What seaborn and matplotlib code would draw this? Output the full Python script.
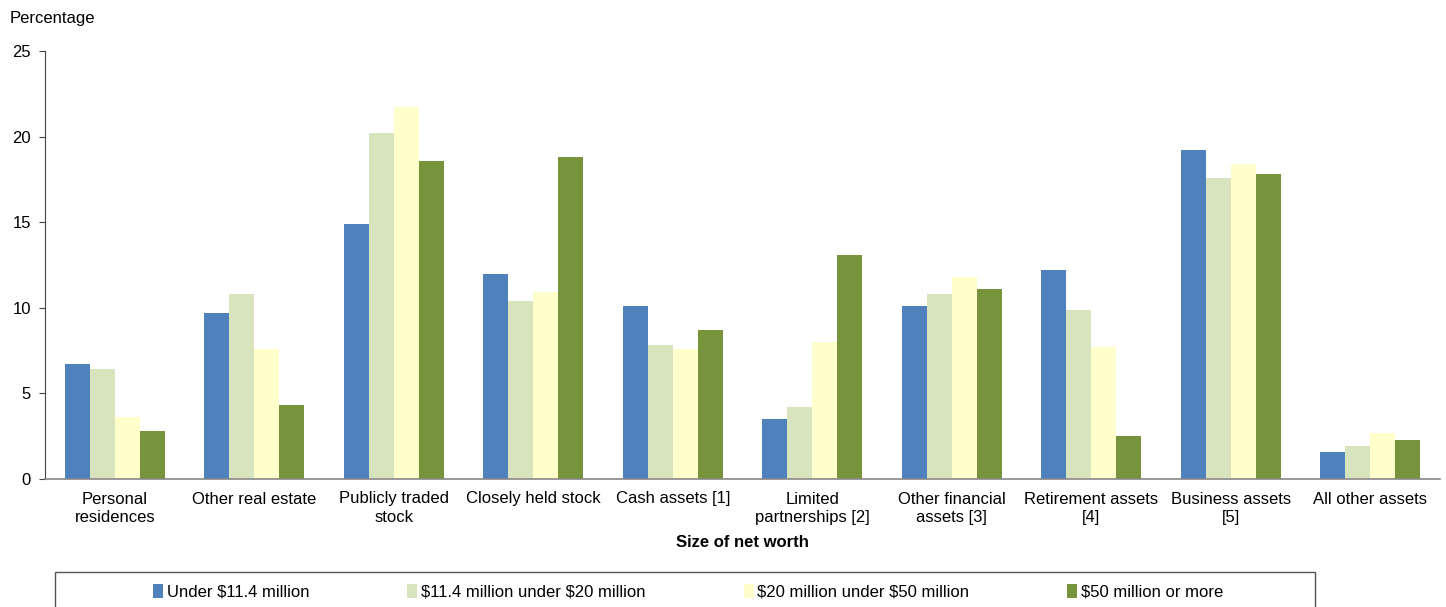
import matplotlib
matplotlib.use("Agg")
from matplotlib import pyplot as plt
from matplotlib.patches import Rectangle
import pandas as pd
import seaborn as sns

categories = ["Personal\nresidences", "Other real estate", "Publicly traded\nstock",
              "Closely held stock", "Cash assets [1]", "Limited\npartnerships [2]",
              "Other financial\nassets [3]", "Retirement assets\n[4]", "Business assets\n[5]",
              "All other assets"]
series = ["Under \\$11.4 million", "\\$11.4 million under \\$20 million",
          "\\$20 million under \\$50 million", "\\$50 million or more"]
under_11_4 = [6.7, 9.7, 14.9, 12.0, 10.1, 3.5, 10.1, 12.2, 19.2, 1.6]
from_11_4_to_20 = [6.4, 10.8, 20.2, 10.4, 7.8, 4.2, 10.8, 9.9, 17.6, 1.9]
from_20_to_50 = [3.6, 7.6, 21.7, 10.9, 7.6, 8.0, 11.8, 7.7, 18.4, 2.7]
over_50 = [2.8, 4.3, 18.6, 18.8, 8.7, 13.1, 11.1, 2.5, 17.8, 2.3]
colors = ["#4F81BD", "#D7E4BD", "#FFFFCC", "#77933C"]

rows = []
for name, vals in zip(series, [under_11_4, from_11_4_to_20, from_20_to_50, over_50]):
    for cat, v in zip(categories, vals):
        rows.append({"category": cat, "group": name, "value": v})
df = pd.DataFrame(rows)

sns.set_style("white")
plt.rcParams['font.family'] = ['Liberation Sans', 'DejaVu Sans']
plt.rcParams['text.color'] = 'black'
plt.rcParams['xtick.color'] = 'black'
plt.rcParams['ytick.color'] = 'black'

W, H = 1446, 607
fig = plt.figure(figsize=(W / 100, H / 100), dpi=100)
ax = fig.add_axes([45 / W, 1 - 479 / H, 1395 / W, 428 / H])
sns.barplot(data=df, x="category", y="value", hue="group", palette=colors,
            hue_order=series, order=categories, width=0.72, saturation=1,
            edgecolor="none", ax=ax, legend=True)

ax.set_ylim(0, 25)
ax.set_yticks([0, 5, 10, 15, 20, 25])
ax.set_xlim(-0.5, len(categories) - 0.5)
ax.tick_params(axis="y", labelsize=12, length=4, width=0.8, color="#444444",
               labelcolor="black", left=True, pad=6)
ax.tick_params(axis="x", labelsize=12, length=0, pad=9, labelcolor="black")
for lbl in ax.get_xticklabels():
    lbl.set_linespacing(1.3)
for s in ["top", "right"]:
    ax.spines[s].set_visible(False)
ax.spines["left"].set_color("#444444")
ax.spines["left"].set_linewidth(0.8)
ax.spines["bottom"].set_color("#888888")
ax.spines["bottom"].set_linewidth(1.2)
ax.set_ylabel("")
ax.set_xlabel("Size of net worth", fontsize=12, fontweight="bold", labelpad=7, color="black")
fig.text(10 / W, 1 - 18 / H, "Percentage", fontsize=12, va="center", ha="left", color="black")

handles, labels = ax.get_legend_handles_labels()
ax.get_legend().remove()
fig.legend(handles, labels, loc="center", ncol=4, bbox_to_anchor=(688 / W, 1 - 592 / H),
           fontsize=12, frameon=False, handlelength=0.6, handleheight=0.9,
           handletextpad=0.2, columnspacing=5.9, borderaxespad=0, labelcolor="black")
fig.patches.append(Rectangle((55 / W, -0.05), 1260 / W, 0.05 + 1 - 572 / H,
                             transform=fig.transFigure, fill=False,
                             edgecolor="#555555", linewidth=1.0))

fig.savefig("out.png", dpi=100)
